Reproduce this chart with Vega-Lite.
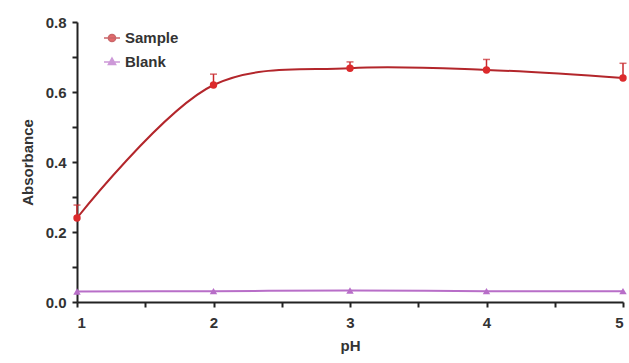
{
  "$schema": "https://vega.github.io/schema/vega-lite/v6.json",
  "width": 546,
  "height": 280,
  "autosize": {"type": "none"},
  "padding": {"left": 77, "top": 22, "right": 6, "bottom": 61},
  "background": "white",
  "config": {
    "view": {"stroke": null},
    "font": "Liberation Sans",
    "axis": {
      "grid": false,
      "domainColor": "#222222",
      "domainWidth": 2,
      "tickColor": "#222222",
      "tickWidth": 2,
      "tickSize": 5,
      "labelFont": "Liberation Sans",
      "labelFontWeight": "bold",
      "labelFontSize": 15,
      "labelColor": "#333333",
      "titleFont": "Liberation Sans",
      "titleFontWeight": "bold",
      "titleFontSize": 15,
      "titleColor": "#333333"
    },
    "legend": {
      "orient": "none",
      "legendX": 26,
      "legendY": 7,
      "labelFont": "Liberation Sans",
      "labelFontWeight": "bold",
      "labelFontSize": 15,
      "labelColor": "#333333",
      "rowPadding": 7,
      "symbolSize": 256,
      "labelOffset": 4,
      "symbolStrokeWidth": 1.5
    }
  },
  "data": {
    "values": [
      {"pH": 1, "series": "Sample", "abs": 0.24, "hi": 0.277},
      {"pH": 2, "series": "Sample", "abs": 0.62, "hi": 0.651},
      {"pH": 3, "series": "Sample", "abs": 0.668, "hi": 0.686},
      {"pH": 4, "series": "Sample", "abs": 0.663, "hi": 0.693},
      {"pH": 5, "series": "Sample", "abs": 0.64, "hi": 0.682},
      {"pH": 1, "series": "Blank", "abs": 0.03, "hi": 0.03},
      {"pH": 2, "series": "Blank", "abs": 0.031, "hi": 0.031},
      {"pH": 3, "series": "Blank", "abs": 0.033, "hi": 0.033},
      {"pH": 4, "series": "Blank", "abs": 0.031, "hi": 0.031},
      {"pH": 5, "series": "Blank", "abs": 0.031, "hi": 0.031}
    ]
  },
  "encoding": {
    "x": {
      "field": "pH", "type": "quantitative",
      "scale": {"domain": [1, 5], "nice": false, "zero": false},
      "axis": {
        "values": [1, 1.5, 2, 2.5, 3, 3.5, 4, 4.5, 5],
        "labelExpr": "datum.value % 1 === 0 ? format(datum.value, 'd') : ''",
        "labelPadding": 8,
        "titlePadding": 8,
        "title": "pH"
      }
    },
    "y": {
      "field": "abs", "type": "quantitative",
      "scale": {"domain": [0, 0.8], "nice": false},
      "axis": {
        "values": [0, 0.1, 0.2, 0.3, 0.4, 0.5, 0.6, 0.7, 0.8],
        "labelExpr": "(round(datum.value * 10) % 2 === 0) ? format(datum.value, '.1f') : ''",
        "labelPadding": 6,
        "titlePadding": 10,
        "title": "Absorbance"
      }
    }
  },
  "layer": [
    {
      "mark": {"type": "line", "interpolate": "catmull-rom", "strokeWidth": 2},
      "encoding": {
        "stroke": {
          "field": "series", "type": "nominal",
          "scale": {"domain": ["Sample", "Blank"], "range": ["#b3262b", "#b86ec8"]},
          "title": null
        }
      }
    },
    {
      "transform": [{"filter": "datum.series === 'Sample'"}],
      "mark": {"type": "rule", "strokeWidth": 1.5, "color": "#c8282c"},
      "encoding": {"y2": {"field": "hi"}}
    },
    {
      "transform": [{"filter": "datum.series === 'Sample'"}],
      "mark": {"type": "tick", "orient": "horizontal", "size": 7, "thickness": 1.5, "color": "#c8282c"},
      "encoding": {"y": {"field": "hi", "type": "quantitative"}}
    },
    {
      "mark": {"type": "point", "filled": true, "size": 0},
      "encoding": {
        "shape": {
          "field": "series", "type": "nominal",
          "scale": {"domain": ["Sample", "Blank"], "range": ["M-1,0H1M-0.45,0A0.45,0.45 0 1,1 0.45,0A0.45,0.45 0 1,1 -0.45,0Z", "M-1,0H1M0,-0.5L0.45,0.3L-0.45,0.3Z"]},
          "title": null
        }
      }
    },
    {
      "mark": {"type": "point", "filled": true, "opacity": 1, "size": 55},
      "encoding": {
        "shape": {
          "condition": {"test": "datum.series === 'Blank'", "value": "triangle-up"},
          "value": "circle"
        },
        "fill": {
          "field": "series", "type": "nominal",
          "scale": {"domain": ["Sample", "Blank"], "range": ["#dc2a2c", "#b86ec8"]},
          "title": null
        }
      }
    }
  ]
}
